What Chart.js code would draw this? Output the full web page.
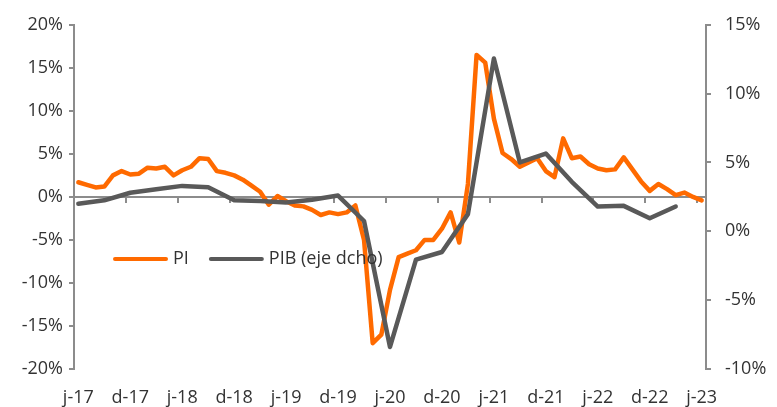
<!DOCTYPE html>
<html><head><meta charset="utf-8">
<script src="https://cdn.jsdelivr.net/npm/chart.js@4/dist/chart.umd.min.js"></script>
<style>html,body{margin:0;padding:0;background:#fff}#wrap{width:777px;height:407px;position:relative}</style>
</head><body><div id="wrap"><canvas id="c"></canvas></div>
<script>
// Categories: monthly, Jun 2017 – Jun 2023 (Spanish month initials)
const months = [
 'j-17','j-17','a-17','s-17','o-17','n-17','d-17',
 'e-18','f-18','m-18','a-18','m-18','j-18','j-18','a-18','s-18','o-18','n-18','d-18',
 'e-19','f-19','m-19','a-19','m-19','j-19','j-19','a-19','s-19','o-19','n-19','d-19',
 'e-20','f-20','m-20','a-20','m-20','j-20','j-20','a-20','s-20','o-20','n-20','d-20',
 'e-21','f-21','m-21','a-21','m-21','j-21','j-21','a-21','s-21','o-21','n-21','d-21',
 'e-22','f-22','m-22','a-22','m-22','j-22','j-22','a-22','s-22','o-22','n-22','d-22',
 'e-23','f-23','m-23','a-23','m-23','j-23'
];
// PI (industrial production), % y/y, left axis
const pi = [
 1.7, 1.4, 1.1, 1.2, 2.5, 3.0, 2.6,
 2.7, 3.4, 3.3, 3.5, 2.5, 3.1, 3.5, 4.5, 4.4, 3.0, 2.8, 2.5,
 2.0, 1.3, 0.6, -0.9, 0.1, -0.5, -1.0, -1.1, -1.5, -2.1, -1.8, -2.0,
 -1.8, -1.0, -5.0, -17.0, -16.0, -10.8, -7.0, -6.6, -6.2, -5.0, -5.0, -3.7,
 -1.8, -5.3, 1.5, 16.5, 15.6, 9.1, 5.1, 4.4, 3.5, 4.0, 4.5, 3.0,
 2.3, 6.8, 4.5, 4.7, 3.8, 3.3, 3.1, 3.2, 4.6, 3.2, 1.8, 0.7,
 1.5, 0.9, 0.2, 0.5, 0.0, -0.4
];
// PIB (GDP), % y/y, quarterly (Jun 2017 – Mar 2023), right axis
const pibQuarterly = [
 2.0, 2.25, 2.8, 3.05, 3.3, 3.2, 2.25, 2.2, 2.1, 2.3, 2.6, 0.75,
 -8.4, -2.05, -1.5, 1.25, 12.55, 5.0, 5.65, 3.6, 1.8, 1.85, 0.95, 1.8
];
const leftTicks = {min: -20, max: 20, step: 5};
const rightTicks = {min: -10, max: 15, step: 5};
const seriesNames = ['PI', 'PIB (eje dcho)'];

const pibMonthly = months.map((_, i) => (i % 3 === 0 && i / 3 < pibQuarterly.length) ? pibQuarterly[i / 3] : null);

const ORANGE = '#FF6A00', GREY = '#595959', AXIS = '#8C8C8C', TEXT = '#333333';
Chart.defaults.font.family = "'Open Sans', sans-serif";
Chart.defaults.font.size = 18;
Chart.defaults.color = TEXT;

const inlineLegend = {
  id: 'inlineLegend',
  afterDatasetsDraw(chart) {
    const ctx = chart.ctx;
    ctx.save();
    ctx.font = "18px 'Open Sans', sans-serif";
    ctx.textBaseline = 'middle';
    ctx.fillStyle = TEXT;
    let x = 113; const y = 259;
    chart.data.datasets.forEach(ds => {
      ctx.strokeStyle = ds.borderColor;
      ctx.lineWidth = 4;
      ctx.lineCap = 'round';
      ctx.beginPath(); ctx.moveTo(x + 2, y); ctx.lineTo(x + 53, y); ctx.stroke();
      ctx.fillText(ds.label, x + 60, y);
      x += 60 + ctx.measureText(ds.label).width + 20;
    });
    ctx.restore();
  }
};

new Chart(document.getElementById('c'), {
  type: 'line',
  data: {
    labels: months,
    datasets: [
      {label: seriesNames[0], data: pi, borderColor: ORANGE, backgroundColor: ORANGE, borderWidth: 4.5,
       pointRadius: 0, tension: 0, yAxisID: 'y', xAxisID: 'x', order: 1,
       borderJoinStyle: 'round', borderCapStyle: 'round'},
      {label: seriesNames[1], data: pibMonthly, borderColor: GREY, backgroundColor: GREY, borderWidth: 4.5,
       pointRadius: 0, tension: 0, yAxisID: 'y1', xAxisID: 'x', spanGaps: true, order: 0,
       borderJoinStyle: 'round', borderCapStyle: 'round'}
    ]
  },
  options: {
    responsive: true, maintainAspectRatio: false, animation: false,
    layout: {padding: {top: 22, left: 0, right: 0, bottom: 0}},
    plugins: {legend: {display: false}, tooltip: {enabled: false}},
    scales: {
      x: {
        type: 'category', position: {y: 0}, offset: true,
        grid: {offset: true, drawOnChartArea: false, drawTicks: true, tickLength: 5, lineWidth: 2,
               color: c => (c.index % 6 === 0) ? AXIS : 'rgba(0,0,0,0)'},
        border: {display: true, color: AXIS, width: 2},
        ticks: {display: false, autoSkip: false}
      },
      x2: {
        type: 'category', position: 'bottom', offset: true,
        grid: {display: false}, border: {display: false},
        ticks: {autoSkip: false, maxRotation: 0, padding: 10,
                callback: (v, i) => (i % 6 === 0) ? months[i] : ''},
        afterFit: s => { s.height = 38; }
      },
      y: {
        position: 'left', min: leftTicks.min, max: leftTicks.max,
        ticks: {stepSize: leftTicks.step, padding: 6, callback: v => v + '%'},
        grid: {drawOnChartArea: false, tickLength: 5, lineWidth: 2, color: AXIS},
        border: {color: AXIS, width: 2},
        afterFit: s => { s.width = 74; }
      },
      y1: {
        position: 'right', min: rightTicks.min, max: rightTicks.max,
        ticks: {stepSize: rightTicks.step, padding: 14, callback: v => v + '%'},
        grid: {drawOnChartArea: false, tickLength: 5, lineWidth: 2, color: AXIS},
        border: {color: AXIS, width: 2},
        afterFit: s => { s.width = 71; }
      }
    }
  },
  plugins: [inlineLegend]
});
</script>
</body></html>
